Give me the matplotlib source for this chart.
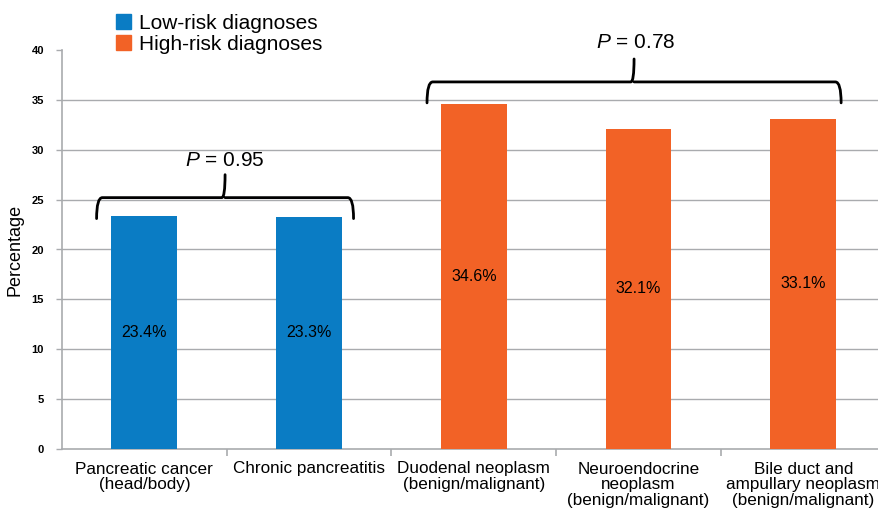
import numpy as np
import matplotlib.pyplot as plt
from matplotlib.path import Path
from matplotlib.patches import PathPatch, Patch

plt.rcParams['font.family'] = ['Liberation Sans', 'DejaVu Sans']
plt.rcParams['mathtext.fontset'] = 'custom'
plt.rcParams['mathtext.it'] = 'Liberation Sans:italic'
plt.rcParams['mathtext.rm'] = 'Liberation Sans'

categories = ['Pancreatic cancer\n(head/body)', 'Chronic pancreatitis',
              'Duodenal neoplasm\n(benign/malignant)',
              'Neuroendocrine\nneoplasm\n(benign/malignant)',
              'Bile duct and\nampullary neoplasm\n(benign/malignant)']
values = [23.4, 23.3, 34.6, 32.1, 33.1]
groups = ['low', 'low', 'high', 'high', 'high']
p_low = r'$P$ = 0.95'
p_high = r'$P$ = 0.78'

blue = '#0a7cc4'
orange = '#f26226'
grid_c = '#a9abae'

fig = plt.figure(figsize=(8.79, 5.19), dpi=100)
ax = fig.add_axes([62 / 879, 1 - 449 / 519, 1 - 62 / 879, (449 - 50) / 519])

x = np.arange(len(values))
colors = [blue if g == 'low' else orange for g in groups]
ax.bar(x, values, width=0.4, color=colors, zorder=3)
for xi, v in zip(x, values):
    ax.text(xi, v / 2, f'{v}%', ha='center', va='center', fontsize=11.5, zorder=4)

ax.set_xlim(-0.5, 4.46)
ax.set_ylim(0, 40)
yt = np.arange(0, 41, 5)
ax.set_yticks(yt)
ax.set_yticklabels([str(t) for t in yt], fontsize=8, fontweight='bold')
for t in yt[1:-1]:
    ax.axhline(t, color=grid_c, lw=1, zorder=1)

ax.set_xticks(x)
ax.set_xticklabels(categories, fontsize=12.3, linespacing=1.05)
ax.set_xticks(np.arange(0.5, 4.5, 1), minor=True)
ax.tick_params(axis='x', which='major', length=0, pad=9)
ax.tick_params(axis='x', which='minor', length=5, color=grid_c, width=1.2)
ax.tick_params(axis='y', length=4, color=grid_c, width=1, pad=9)

for s in ['top', 'right']:
    ax.spines[s].set_visible(False)
for s in ['left', 'bottom']:
    ax.spines[s].set_color(grid_c)
    ax.spines[s].set_linewidth(1.2)

ax.set_ylabel('Percentage', fontsize=13, labelpad=6)


def brace(x0, x1, ybot, ymid, ytip):
    xc = (x0 + x1) / 2
    r = 0.035
    c = 0.02
    verts = [(x0, ybot), (x0, ymid), (x0 + r, ymid),
             (xc - c, ymid), (xc, ymid), (xc, ytip),
             (xc, ymid), (xc + c, ymid),
             (x1 - r, ymid), (x1, ymid), (x1, ybot)]
    codes = [Path.MOVETO, Path.CURVE3, Path.CURVE3,
             Path.LINETO, Path.CURVE3, Path.CURVE3,
             Path.MOVETO, Path.CURVE3,
             Path.LINETO, Path.CURVE3, Path.CURVE3]
    ax.add_patch(PathPatch(Path(verts, codes), fill=False, lw=2,
                           color='black', clip_on=False, zorder=5,
                           capstyle='round', joinstyle='round'))


brace(-0.29, 1.27, 23.1, 25.2, 27.5)
ax.text(0.49, 28.9, p_low, ha='center', va='center', fontsize=15, zorder=5)
brace(1.716, 4.23, 34.7, 36.8, 39.1)
ax.text(2.98, 40.8, p_high, ha='center', va='center', fontsize=15,
        clip_on=False, zorder=5)

handles = [Patch(color=blue, label='Low-risk diagnoses'),
           Patch(color=orange, label='High-risk diagnoses')]
fig.legend(handles=handles, loc='upper left', bbox_to_anchor=(99 / 879, 1.006),
           frameon=False, fontsize=15, handlelength=0.75, handleheight=0.75,
           handletextpad=0.35, labelspacing=0.12, borderpad=0.3)

fig.savefig('out.png', dpi=100)
